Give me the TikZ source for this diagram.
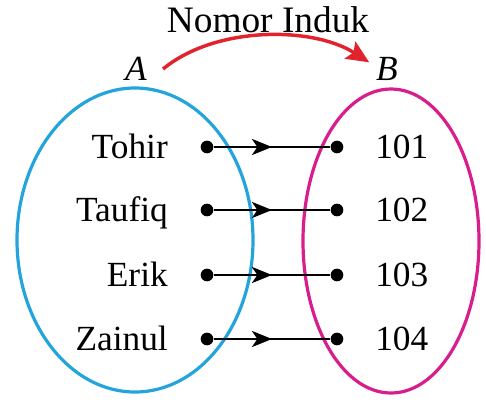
\documentclass[tikz,border=0pt]{standalone}
\usepackage{fontspec}
\setmainfont{Liberation Serif}
\usepackage{tikz}
\usetikzlibrary{arrows.meta,decorations.markings}

\definecolor{setA}{RGB}{35,165,220}
\definecolor{setB}{RGB}{215,30,140}
\definecolor{arcred}{RGB}{225,35,45}

\tikzset{
  pnt/.style={circle,fill=black,inner sep=0pt,minimum size=9.5pt},
  lab/.style={inner sep=0pt,font=\fontsize{26.5}{30}\selectfont},
  pair/.style={line width=2.1pt,
    postaction={decorate},
    decoration={markings,mark=at position 0.5 with {\arrow{Stealth[length=15pt,width=12pt,inset=4pt]}}}},
  oval/.style={line width=2.4pt}
}

\begin{document}
\begin{tikzpicture}[x=0.75pt,y=0.75pt,yscale=-1,xscale=1]
\useasboundingbox (0,0) rectangle (486,405);

%Shape: Ellipse (set A)
\draw [oval,setA] (135,240) ellipse (118 and 152);
%Shape: Ellipse (set B)
\draw [oval,setB] (391,241) ellipse (88 and 152);

% Text Node
\node [lab,font=\fontsize{28}{32}\selectfont] (title) at (268,20) {Nomor Induk};
% Text Node
\node [lab] (labA) at (136,69) {\itshape A};
% Text Node
\node [lab] (labB) at (387,69) {\itshape B};

%Curve Lines
\draw [arcred,line width=2.6pt,-{Stealth[length=17pt,width=15pt,inset=3pt]}] ([xshift=12pt]labA.east) .. controls (215,26) and (312,26) .. ([xshift=-5pt,yshift=-5pt]labB.west);

%Shape: Circle
\node [pnt] (a1) at (207,147) {};
\node [pnt] (a2) at (207,210) {};
\node [pnt] (a3) at (207,275) {};
\node [pnt] (a4) at (207,339) {};
\node [pnt] (b1) at (337,147) {};
\node [pnt] (b2) at (337,210) {};
\node [pnt] (b3) at (337,275) {};
\node [pnt] (b4) at (337,339) {};

% Text Node
\node [lab,anchor=base east] (n1) at (168,158.5) {Tohir};
\node [lab,anchor=base east] (n2) at (168,221.5) {Taufiq};
\node [lab,anchor=base east] (n3) at (168,286.5) {Erik};
\node [lab,anchor=base east] (n4) at (168,350.5) {Zainul};
% Text Node
\node [lab,anchor=base west] (m1) at (375,158.5) {101};
\node [lab,anchor=base west] (m2) at (375,221.5) {102};
\node [lab,anchor=base west] (m3) at (375,286.5) {103};
\node [lab,anchor=base west] (m4) at (375,350.5) {104};

%Straight Lines
\draw [pair] (a1) -- (b1);
\draw [pair] (a2) -- (b2);
\draw [pair] (a3) -- (b3);
\draw [pair] (a4) -- (b4);

\end{tikzpicture}
\end{document}
